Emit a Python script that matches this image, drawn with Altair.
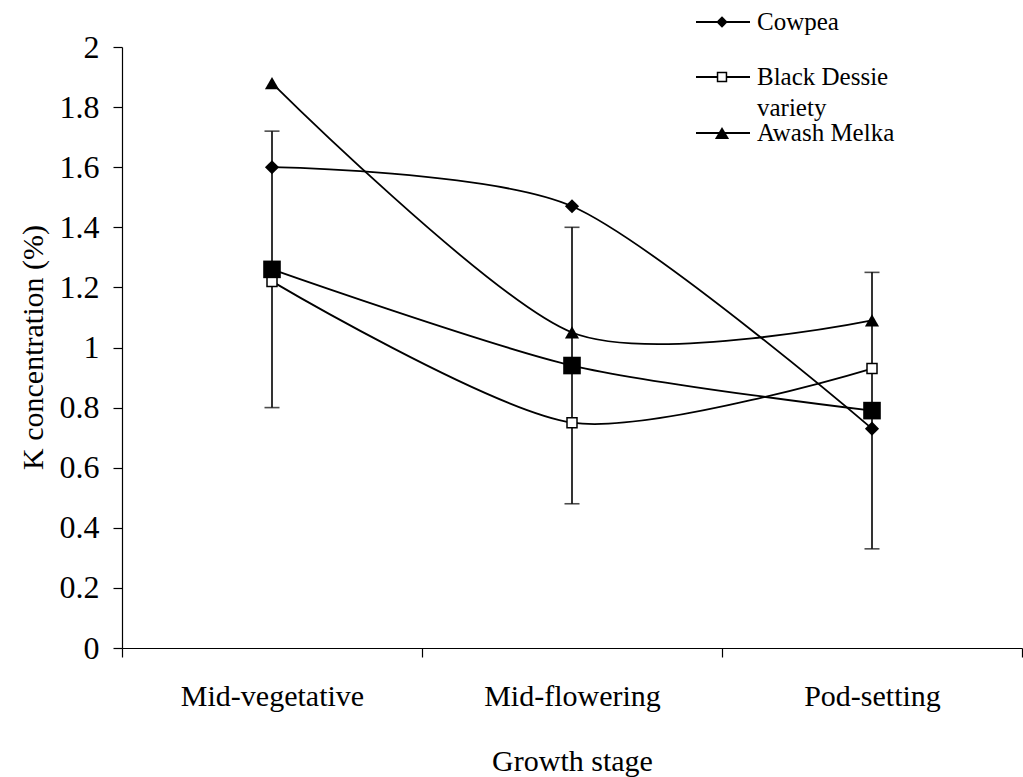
import altair as alt
import pandas as pd

stages = ["Mid-vegetative", "Mid-flowering", "Pod-setting"]
cowpea = [1.60, 1.47, 0.73]
black_dessie = [1.22, 0.75, 0.93]
awash_melka = [1.88, 1.05, 1.09]
mean_vals = [1.26, 0.94, 0.79]
err_low = [0.80, 0.48, 0.33]
err_high = [1.72, 1.40, 1.25]
legend_labels = ["Cowpea", "Black Dessie", "variety", "Awash Melka"]
y_ticks = [round(i * 0.2, 1) for i in range(11)]

series = {
    "Cowpea": cowpea,
    "Black Dessie variety": black_dessie,
    "Awash Melka": awash_melka,
    "Mean": mean_vals,
}
rows = []
for name, vals in series.items():
    for s, v in zip(stages, vals):
        rows.append({"stage": s, "series": name, "value": v})
df = pd.DataFrame(rows)
err_df = pd.DataFrame({"stage": stages, "low": err_low, "high": err_high})

FONT = "Liberation Serif"

x_enc = alt.X(
    "stage:N",
    sort=stages,
    scale=alt.Scale(domain=stages, paddingInner=0, paddingOuter=0),
    axis=alt.Axis(
        title="Growth stage",
        labelAngle=0,
        labelLimit=0,
        tickBand="extent",
        tickSize=9,
        labelPadding=24,
        labelFontSize=30,
        titleFontSize=30,
        titleX=450,
        titleY=122,
        titleBaseline="alphabetic",
        titleFontWeight="normal",
    ),
)
y_scale = alt.Scale(domain=[0, 2], nice=False, zero=True)
y_enc = alt.Y(
    "value:Q",
    scale=y_scale,
    axis=alt.Axis(
        title="K concentration (%)",
        values=y_ticks,
        format="~g",
        tickSize=9,
        labelPadding=14,
        labelFontSize=32,
        titleFontSize=30,
        titleX=-89,
        titleY=300,
        titleAngle=-90,
        titleBaseline="middle",
        titleFontWeight="normal",
        grid=False,
    ),
)

lines = alt.Chart(df).mark_line(
    color="black", strokeWidth=1.8, interpolate="cardinal", tension=0.2
).encode(x=x_enc, y=y_enc, detail="series:N")

err_rule = alt.Chart(err_df).mark_rule(color="black", strokeWidth=1.6).encode(
    x=alt.X("stage:N", sort=stages), y=alt.Y("low:Q", scale=y_scale), y2="high:Q"
)
cap_low = alt.Chart(err_df).mark_tick(color="black", size=15, thickness=1.6).encode(
    x=alt.X("stage:N", sort=stages), y=alt.Y("low:Q", scale=y_scale)
)
cap_high = alt.Chart(err_df).mark_tick(color="black", size=15, thickness=1.6).encode(
    x=alt.X("stage:N", sort=stages), y=alt.Y("high:Q", scale=y_scale)
)

styles = {
    "Cowpea": dict(shape="diamond", size=200, filled=True, fill="black", strokeWidth=0),
    "Black Dessie variety": dict(shape="square", size=100, filled=True, fill="white", stroke="black", strokeWidth=1.5),
    "Awash Melka": dict(shape="triangle-up", size=200, filled=True, fill="black", strokeWidth=0),
    "Mean": dict(shape="square", size=310, filled=True, fill="black", strokeWidth=0),
}
point_layers = []
for name, st in styles.items():
    point_layers.append(
        alt.Chart(df).transform_filter(alt.datum.series == name)
        .mark_point(opacity=1, **st)
        .encode(x=alt.X("stage:N", sort=stages), y=alt.Y("value:Q", scale=y_scale))
    )

# manual legend (pixel positions relative to plot area)
leg_df = pd.DataFrame({"label": legend_labels})
leg_layers = []
entry_y = {"Cowpea": -25, "Black Dessie variety": 30, "Awash Melka": 86}
leg_style = {
    "Cowpea": dict(shape="diamond", size=130, filled=True, fill="black", strokeWidth=0),
    "Black Dessie variety": dict(shape="square", size=80, filled=True, fill="white", stroke="black", strokeWidth=1.5),
    "Awash Melka": dict(shape="triangle-up", size=200, filled=True, fill="black", strokeWidth=0),
}
for name, yy in entry_y.items():
    leg_layers.append(
        alt.Chart(leg_df).transform_filter(alt.datum.label == legend_labels[0])
        .mark_rule(color="black", strokeWidth=1.8)
        .encode(x=alt.value(574), x2=alt.value(628), y=alt.value(yy))
    )
    leg_layers.append(
        alt.Chart(leg_df).transform_filter(alt.datum.label == legend_labels[0])
        .mark_point(opacity=1, **leg_style[name])
        .encode(x=alt.value(600), y=alt.value(yy))
    )
text_y = {"Cowpea": -25, "Black Dessie": 30, "variety": 61, "Awash Melka": 86}
for lab in legend_labels:
    leg_layers.append(
        alt.Chart(leg_df).transform_filter(alt.datum.label == lab)
        .mark_text(align="left", baseline="middle", font=FONT, fontSize=25, color="black")
        .encode(x=alt.value(635), y=alt.value(text_y[lab]), text="label:N")
    )

chart = alt.layer(lines, err_rule, cap_low, cap_high, *point_layers, *leg_layers).properties(
    width=900,
    height=601,
    autosize=alt.AutoSizeParams(type="none"),
    padding={"left": 122, "top": 47, "right": 1, "bottom": 129},
    background="white",
).configure_axis(
    labelFont=FONT,
    titleFont=FONT,
    labelColor="black",
    titleColor="black",
    domainColor="black",
    tickColor="black",
    domainWidth=1.2,
    tickWidth=1.2,
    grid=False,
).configure_view(stroke=None)

chart.save("out.html", embed_options={"renderer": "svg", "actions": False})
